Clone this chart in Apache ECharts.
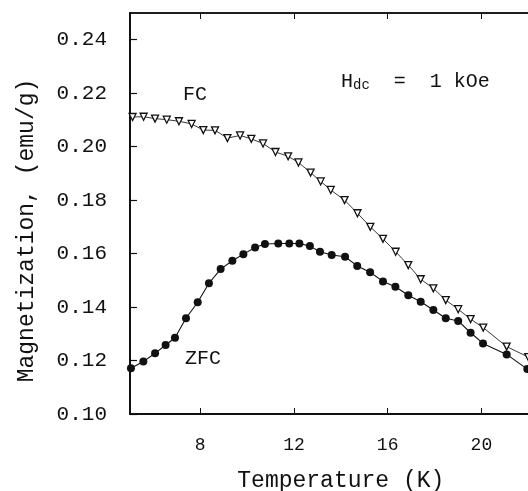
<!DOCTYPE html>
<html>
<head>
<meta charset="utf-8">
<script src="https://cdn.jsdelivr.net/npm/echarts@6/dist/echarts.min.js"></script>
<style>html,body{margin:0;padding:0;background:#fff;}#c{width:528px;height:491px;}</style>
</head>
<body>
<div id="c"></div>
<script>
// Data
const zfcT = [5.04,5.57,6.07,6.52,6.92,7.39,7.89,8.37,8.87,9.37,9.84,10.34,10.76,11.33,11.80,12.23,12.68,13.11,13.61,14.18,14.70,15.25,15.80,16.33,16.88,17.41,17.95,18.48,19.01,19.54,20.07,21.08,21.96];
const zfcM = [0.1171,0.1196,0.1227,0.1258,0.1285,0.1358,0.1418,0.1489,0.1542,0.1573,0.1598,0.1623,0.1636,0.1638,0.1638,0.1638,0.1628,0.1607,0.1595,0.1588,0.1554,0.1530,0.1496,0.1476,0.1444,0.1420,0.1389,0.1358,0.1348,0.1304,0.1264,0.1223,0.1168];
const fcT = [5.11,5.58,6.07,6.57,7.09,7.63,8.13,8.63,9.16,9.70,10.18,10.68,11.21,11.75,12.19,12.71,13.14,13.57,14.16,14.71,15.26,15.80,16.34,16.88,17.41,17.95,18.48,19.01,19.54,20.08,21.08,22.0];
const fcM = [0.2111,0.2112,0.2105,0.2101,0.2095,0.2085,0.2062,0.2061,0.2032,0.2042,0.2029,0.2012,0.1980,0.1964,0.1941,0.1903,0.1870,0.1838,0.1800,0.1751,0.1700,0.1655,0.1607,0.1557,0.1504,0.1470,0.1426,0.1392,0.1355,0.1323,0.1252,0.1213];
const xTicks = [8, 12, 16, 20];
const yTicks = [0.10, 0.12, 0.14, 0.16, 0.18, 0.20, 0.22, 0.24];
const xTitle = 'Temperature (K)';
const yTitle = 'Magnetization, (emu/g)';

const FONT = '"Liberation Mono", "DejaVu Sans Mono", monospace';
const chart = echarts.init(document.getElementById('c'), null, {renderer: 'canvas'});
const pair = (a, b) => a.map((v, i) => [v, b[i]]);

chart.setOption({
  backgroundColor: '#fff',
  animation: false,
  grid: {left: 130, top: 13, width: 421.65, height: 401, outerBoundsMode: 'none', containLabel: false,
    show: true, borderColor: '#111', borderWidth: 1.5, backgroundColor: 'transparent'},
  xAxis: [{
    type: 'value', min: 5, max: 23, position: 'bottom',
    axisLine: {show: true, onZero: false, lineStyle: {color: '#111', width: 2}},
    axisTick: {show: true, inside: true, length: 6, customValues: xTicks, lineStyle: {color: '#111', width: 1}},
    axisLabel: {show: true, customValues: xTicks, margin: 22, color: '#111', fontFamily: FONT, fontSize: 18},
    splitLine: {show: false},
    name: xTitle, nameLocation: 'middle', nameGap: 55,
    nameTextStyle: {color: '#111', fontFamily: FONT, fontSize: 23}
  }, {
    type: 'value', min: 5, max: 23, position: 'top',
    axisLine: {show: true, onZero: false, lineStyle: {color: '#111', width: 1.5}},
    axisTick: {show: true, inside: true, length: 6, customValues: xTicks, lineStyle: {color: '#111', width: 1}},
    axisLabel: {show: false},
    splitLine: {show: false}
  }],
  yAxis: {
    type: 'value', min: 0.10, max: 0.25,
    axisLine: {show: true, onZero: false, lineStyle: {color: '#111', width: 2}},
    axisTick: {show: true, inside: true, length: 7, customValues: yTicks, lineStyle: {color: '#111', width: 1.2}},
    axisLabel: {show: true, customValues: yTicks, margin: 23, color: '#111', fontFamily: FONT, fontSize: 21,
      formatter: v => v.toFixed(2)},
    splitLine: {show: false},
    name: yTitle, nameLocation: 'middle', nameGap: 92,
    nameTextStyle: {color: '#111', fontFamily: FONT, fontSize: 23, padding: [0, 34, 0, 0]}
  },
  series: [{
    name: 'FC', type: 'line', xAxisIndex: 0,
    data: pair(fcT, fcM),
    symbol: 'triangle', symbolRotate: 180, symbolSize: 7,
    lineStyle: {color: '#222', width: 0.9},
    itemStyle: {color: '#fff', borderColor: '#111', borderWidth: 1.3}
  }, {
    name: 'ZFC', type: 'line', xAxisIndex: 0,
    data: pair(zfcT, zfcM),
    symbol: 'circle', symbolSize: 8,
    showAllSymbol: true,
    lineStyle: {color: '#111', width: 1.1},
    itemStyle: {color: '#111', borderColor: '#111', borderWidth: 0}
  }],
  graphic: [
    {type: 'text', left: 183, top: 85, style: {text: 'FC', fill: '#111', font: '20px ' + FONT}},
    {type: 'text', left: 185, top: 349, style: {text: 'ZFC', fill: '#111', font: '20px ' + FONT}},
    {type: 'text', left: 341, top: 72, style: {
      text: 'H{s|dc}  =  1 kOe', fill: '#111', font: '20px ' + FONT,
      rich: {s: {fontSize: 14, fontFamily: FONT, fill: '#111', verticalAlign: 'bottom', padding: [6, 0, 0, 0]}}
    }}
  ]
});
</script>
</body>
</html>
